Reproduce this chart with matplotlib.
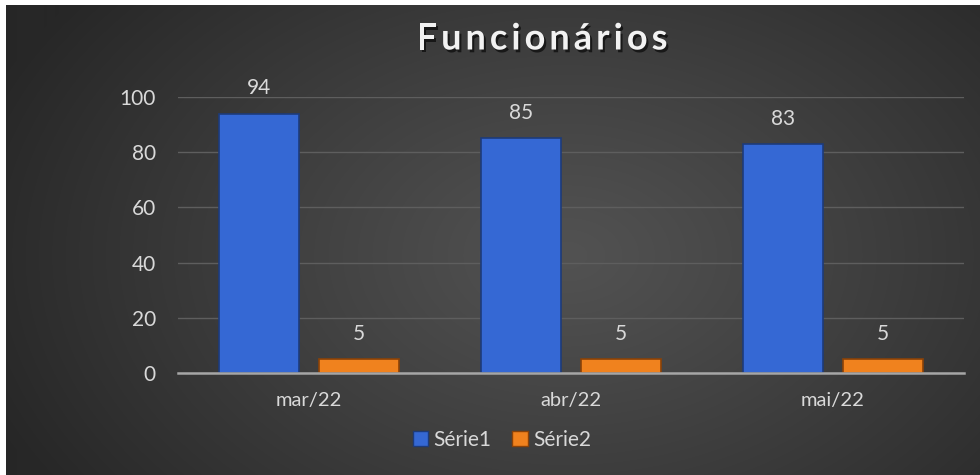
import numpy as np
import matplotlib.pyplot as plt
import matplotlib.patheffects as pe
from matplotlib.patches import Patch

plt.rcParams['font.family'] = ['Lato', 'DejaVu Sans']

categorias = ['mar/22', 'abr/22', 'mai/22']
serie1 = [94, 85, 83]
serie2 = [5, 5, 5]
titulo = 'Funcionários'

texto = '#d9d9d9'
azul = '#3568d4'
laranja = '#f0821e'

fig = plt.figure(figsize=(9.8, 4.75), dpi=100)
fig.patch.set_facecolor('white')

# fundo escuro com gradiente radial
bg = fig.add_axes([6 / 980, 0, 974 / 980, 470 / 475])
h, w = 470, 974
yy, xx = np.mgrid[0:h, 0:w]
r = np.sqrt(((xx - 560) / 620.0) ** 2 + ((yy - 250) / 420.0) ** 2)
r = np.clip(r, 0, 1)
val = (0x52 - (0x52 - 0x27) * r ** 1.1) / 255.0
img = np.dstack([val, val, val])
bg.imshow(img, aspect='auto', extent=[0, 1, 0, 1])
bg.axis('off')

ax = fig.add_axes([178 / 980, (475 - 373) / 475, 786 / 980, (373 - 97) / 475])
ax.set_facecolor('none')

x = np.arange(len(categorias))
larg = 0.305
b1 = ax.bar(x - 0.19, serie1, larg, color=azul, edgecolor='#1d3b7a', linewidth=1.2, zorder=3)
b2 = ax.bar(x + 0.19, serie2, larg, color=laranja, edgecolor='#8a4208', linewidth=1.2, zorder=3)

for barras in (b1, b2):
    for b in barras:
        ax.annotate(str(int(b.get_height())), (b.get_x() + b.get_width() / 2, b.get_height()),
                    xytext=(0, 11), textcoords='offset points', ha='center', va='bottom',
                    color=texto, fontsize=15)

ax.set_xlim(-0.5, len(categorias) - 0.5)
ax.set_ylim(0, 100)
ax.set_yticks(range(0, 101, 20))
ax.set_xticks(x)
ax.set_xticklabels(categorias)
ax.tick_params(axis='both', length=0, colors=texto, labelsize=15)
ax.tick_params(axis='x', labelsize=14.5, pad=14)
ax.tick_params(axis='y', pad=16)
ax.grid(axis='y', color='#5e5e5e', linewidth=1, zorder=0)
for s in ['top', 'right', 'left']:
    ax.spines[s].set_visible(False)
ax.spines['bottom'].set_color('#a6a6a6')
ax.spines['bottom'].set_linewidth(1.8)
ax.spines['bottom'].set_zorder(4)

# titulo com espacamento entre letras
renderer = fig.canvas.get_renderer()
sombra = [pe.withSimplePatchShadow(offset=(1.5, -2), shadow_rgbFace='black', alpha=0.6)]
letras = []
larguras = []
for c in titulo:
    t = fig.text(0, 0, c, ha='left', va='center', color='#f2f2f2', fontsize=26,
                 fontweight='bold', path_effects=sombra)
    letras.append(t)
    larguras.append(t.get_window_extent(renderer).width)
esp = 4.0
total = sum(larguras) + esp * (len(titulo) - 1)
pos = 542 - total / 2
for t, lw in zip(letras, larguras):
    t.set_position((pos / 980, 1 - 39 / 475))
    pos += lw + esp

handles = [Patch(facecolor=azul, edgecolor='#1d3b7a', label='Série1'),
           Patch(facecolor=laranja, edgecolor='#8a4208', label='Série2')]
leg = fig.legend(handles=handles, loc='center', bbox_to_anchor=(502 / 980, 1 - 440 / 475), ncol=2,
                 frameon=False, fontsize=15, handlelength=0.75, handleheight=0.75,
                 handletextpad=0.25, columnspacing=1.0)
for t in leg.get_texts():
    t.set_color(texto)

fig.savefig('out.png', dpi=100, facecolor='white')
